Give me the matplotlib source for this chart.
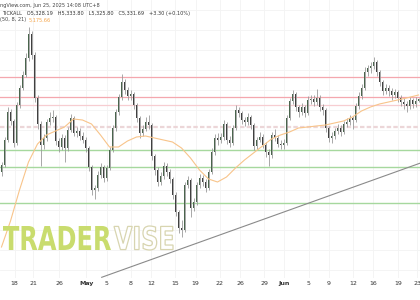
import numpy as np
import matplotlib
matplotlib.use("Agg")
import matplotlib.pyplot as plt
from matplotlib.textpath import TextPath
from matplotlib.patches import PathPatch
from matplotlib.font_manager import FontProperties
from matplotlib.transforms import Affine2D, IdentityTransform

# candle data (one candle per slot), opens follow the previous close
first_open = 5186
closes = [5200, 5250, 5306, 5288, 5244, 5320, 5354, 5380, 5414, 5462,
          5420, 5334, 5282, 5240, 5254, 5286, 5294, 5296, 5248, 5236,
          5254, 5234, 5270, 5294, 5264, 5268, 5258, 5250, 5234, 5196,
          5150, 5154, 5180, 5196, 5174, 5194, 5230, 5274, 5306, 5336,
          5366, 5350, 5338, 5342, 5320, 5294, 5264, 5272, 5286, 5280,
          5218, 5190, 5166, 5178, 5198, 5186, 5172, 5140, 5106, 5074,
          5070, 5160, 5170, 5114, 5126, 5160, 5174, 5166, 5154, 5186,
          5226, 5254, 5250, 5256, 5282, 5250, 5244, 5274, 5310, 5304,
          5290, 5286, 5296, 5280, 5238, 5250, 5256, 5240, 5226, 5220,
          5260, 5254, 5242, 5240, 5244, 5294, 5328, 5342, 5316, 5306,
          5316, 5304, 5330, 5332, 5326, 5334, 5316, 5310, 5274, 5254,
          5258, 5268, 5274, 5266, 5282, 5286, 5294, 5290, 5318, 5338,
          5354, 5386, 5394, 5398, 5406, 5386, 5366, 5348, 5354, 5348,
          5340, 5346, 5334, 5326, 5322, 5318, 5330, 5322, 5328.19, 5331.69]
highs = [5206, 5256, 5316, 5312, 5292, 5326, 5360, 5388, 5424, 5476,
         5468, 5426, 5340, 5288, 5262, 5292, 5306, 5310, 5300, 5254,
         5262, 5260, 5276, 5302, 5298, 5276, 5274, 5266, 5256, 5238,
         5200, 5160, 5188, 5204, 5200, 5200, 5236, 5280, 5312, 5342,
         5382, 5372, 5356, 5350, 5346, 5324, 5298, 5280, 5296, 5300,
         5284, 5222, 5196, 5186, 5206, 5204, 5192, 5176, 5146, 5110,
         5090, 5166, 5178, 5174, 5134, 5166, 5182, 5180, 5172, 5192,
         5234, 5262, 5264, 5264, 5290, 5286, 5258, 5280, 5320, 5316,
         5308, 5296, 5304, 5300, 5284, 5256, 5266, 5262, 5246, 5232,
         5266, 5272, 5260, 5250, 5252, 5300, 5334, 5350, 5346, 5320,
         5324, 5320, 5338, 5340, 5340, 5352, 5340, 5322, 5314, 5278,
         5266, 5274, 5282, 5280, 5288, 5294, 5300, 5298, 5324, 5346,
         5362, 5396, 5400, 5406, 5416, 5410, 5390, 5370, 5362, 5360,
         5354, 5352, 5350, 5340, 5334, 5328, 5336, 5334, 5336, 5333.80]
lows = [5178, 5196, 5246, 5280, 5236, 5240, 5314, 5350, 5376, 5408,
        5412, 5326, 5272, 5198, 5232, 5248, 5280, 5286, 5240, 5226,
        5230, 5206, 5228, 5266, 5258, 5256, 5250, 5244, 5226, 5188,
        5140, 5132, 5148, 5174, 5166, 5168, 5190, 5226, 5268, 5300,
        5330, 5342, 5330, 5330, 5312, 5286, 5254, 5258, 5268, 5272,
        5210, 5180, 5158, 5160, 5172, 5178, 5164, 5132, 5098, 5064,
        5056, 5066, 5154, 5096, 5108, 5120, 5154, 5158, 5146, 5150,
        5182, 5220, 5240, 5244, 5250, 5242, 5236, 5240, 5270, 5296,
        5282, 5278, 5280, 5272, 5230, 5232, 5246, 5234, 5216, 5198,
        5214, 5248, 5236, 5232, 5232, 5240, 5290, 5322, 5308, 5296,
        5300, 5296, 5300, 5322, 5318, 5320, 5308, 5300, 5266, 5246,
        5244, 5252, 5262, 5258, 5262, 5276, 5280, 5272, 5286, 5312,
        5332, 5350, 5378, 5384, 5392, 5378, 5358, 5340, 5342, 5338,
        5330, 5334, 5326, 5318, 5312, 5306, 5312, 5314, 5316, 5325.80]

# moving average, sampled every 3 candles
ma_idx = [0, 3, 6, 9, 12, 15, 18, 21, 24, 27, 30, 33, 36, 39, 42, 45,
          48, 51, 54, 57, 60, 63, 66, 69, 72, 75, 78, 81, 84, 87, 90, 93,
          96, 99, 102, 105, 108, 111, 114, 117, 120, 123, 126, 129, 132,
          135, 139]
ma_val = [5036, 5088, 5150, 5206, 5242, 5260, 5268, 5276, 5292, 5290,
          5282, 5260, 5236, 5236, 5248, 5256, 5258, 5254, 5250, 5246,
          5234, 5214, 5190, 5172, 5166, 5176, 5194, 5210, 5224, 5238,
          5252, 5260, 5266, 5274, 5276, 5278, 5280, 5284, 5288, 5296,
          5308, 5316, 5322, 5326, 5330, 5334, 5340]

# horizontal levels
red_levels = [5376.6, 5335.4]
red_light = [5319.4]
dash_level = [5277]
green_levels = [5230, 5195.4, 5124.6]

# trend line (candle index, price)
trend_x = [33.4, 139.5]
trend_y = [4975.4, 5203.6]

tick_pos = [4.4, 10.6, 19.2, 28.3, 35.1, 43.1, 49.8, 57.8, 64.7, 72.8,
            79.5, 87.6, 94.3, 102.4, 109.2, 117.3, 123.9, 132.1, 138.6]
tick_lab = ["18", "21", "26", "May", "5", "8", "12", "15", "19", "22",
            "26", "29", "Jun", "5", "9", "12", "16", "19", "23"]

fig = plt.figure(figsize=(4.2, 3.0), dpi=100)
ax = fig.add_axes([0, 22 / 300, 1, 278 / 300])
ax.set_xlim(-0.5, 139.5)
ax.set_ylim(4974, 5530)

opens = [first_open] + closes[:-1]
n = len(closes)
x = np.arange(n)
up_col = "#4a654d"
dn_col = "#404040"
wick_col = "#9a9a9a"
for i in range(n):
    o, c = opens[i], closes[i]
    ax.vlines(x[i], lows[i], highs[i], color=wick_col, lw=0.6, zorder=3)
    col = up_col if c >= o else dn_col
    ax.bar(x[i], max(abs(c - o), 1.2), bottom=min(o, c), width=0.6,
           color=col, edgecolor="none", zorder=4)

ax.plot(ma_idx, ma_val, color="#f8c48a", lw=0.8, zorder=5)

for lv in red_levels:
    ax.axhline(lv, color="#f4a7ae", lw=0.9, zorder=2)
for lv in red_light:
    ax.axhline(lv, color="#f7cdd1", lw=0.9, zorder=2)
for lv in dash_level:
    ax.axhline(lv, color="#ecd6d8", lw=1.6, ls=(0, (2, 1)), zorder=2)
for lv in green_levels:
    ax.axhline(lv, color="#a6d89e", lw=1.0, zorder=2)

ax.plot(trend_x, trend_y, color="#8a8a8a", lw=0.8, zorder=5)

ax.set_xticks(tick_pos)
ax.set_xticklabels(tick_lab, fontsize=4.5, color="#333333")
for lab in ax.get_xticklabels():
    if lab.get_text() in ("May", "Jun"):
        lab.set_fontweight("bold")
ax.tick_params(axis="x", length=0, pad=2)
ax.set_yticks(np.arange(4990, 5530, 40))
ax.tick_params(axis="y", length=0, labelleft=False)
ax.grid(True, color="#f3f3f3", lw=0.6, zorder=0)
for s in ax.spines.values():
    s.set_visible(False)

# header texts
fig.text(0.0, 1 - 5 / 300, "ngView.com, Jun 25, 2025 14:08 UTC+8", fontsize=3.6,
         color="#444444", va="center", ha="left")
fig.text(0.005, 1 - 14 / 300,
         "TICKALL   O5,328.19   H5,333.80   L5,325.80   C5,331.69   +3.30 (+0.10%)",
         fontsize=3.6, color="#333333", va="center", ha="left")
fig.text(0.0, 1 - 20 / 300, "(50, 8, 21)", fontsize=3.6, color="#444444",
         va="center", ha="left")
fig.text(0.068, 1 - 20 / 300, "5,175.66", fontsize=3.6, color="#f5a54a",
         va="center", ha="left")

# watermark
fp = FontProperties(family="DejaVu Sans", weight="bold")


def word_patch(word, x0, x1, y0, y1, **kw):
    tp = TextPath((0, 0), word, size=1, prop=fp)
    bb = tp.get_extents()
    tr = Affine2D().translate(-bb.x0, -bb.y0).scale(
        (x1 - x0) / bb.width, (y1 - y0) / bb.height).translate(x0, 300 - y1)
    p = PathPatch(tr.transform_path(tp), transform=IdentityTransform(), **kw)
    fig.add_artist(p)


word_patch("TRADER", 3, 111, 226, 250, facecolor="#c9dc6e", edgecolor="none",
           zorder=6)
word_patch("VISE", 114, 173, 226, 250, facecolor="white", edgecolor="#d8d5b0",
           lw=0.9, zorder=6)

fig.savefig("out.png", dpi=100, facecolor="white")
